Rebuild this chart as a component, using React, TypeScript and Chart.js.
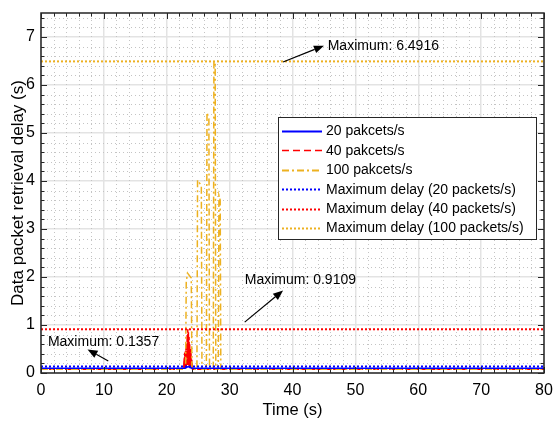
import React, { useEffect, useRef } from "react";
import { Chart, registerables } from "chart.js";

Chart.register(...registerables);

const FONT = "'Liberation Sans', Arial, Helvetica, sans-serif";

// ---- data ----
const time20 = [0, 10, 20, 22.9, 23.4, 24.0, 30, 40, 50, 60, 70, 80];
const delay20 = [0.1, 0.1, 0.1, 0.1, 0.1357, 0.1, 0.1, 0.1, 0.1, 0.1, 0.1, 0.1];

const time40 = [
  0, 22.7, 22.75, 22.8, 22.85, 22.9, 22.95, 23.0, 23.05, 23.1, 23.15, 23.2, 23.25, 23.3, 23.35, 23.4, 23.45,
  23.5, 23.55, 23.6, 23.65, 23.7, 23.75, 23.8, 23.85, 23.9, 23.95, 24.0, 24.05, 24.1, 80,
];
const delay40 = [
  0.08, 0.08, 0.3, 0.1, 0.42, 0.12, 0.45, 0.15, 0.55, 0.12, 0.62, 0.2, 0.8, 0.15, 0.9109, 0.2, 0.85,
  0.15, 0.75, 0.12, 0.6, 0.1, 0.5, 0.1, 0.42, 0.1, 0.3, 0.1, 0.2, 0.08, 0.08,
];

const time100 = [0, 23.0, 23.1, 23.3, 23.9, 24.0, 24.8, 24.9, 25.5, 25.6, 26.3, 26.4, 26.7, 26.8, 27.4, 27.5, 27.7, 27.8, 28.2, 28.3, 28.5, 28.6, 80];
const delay100 = [0.08, 0.08, 1.9, 2.08, 1.98, 0.08, 0.08, 4.02, 3.9, 0.08, 0.08, 5.43, 5.3, 0.08, 0.08, 6.4916, 6.45, 0.08, 0.08, 3.7, 3.6, 0.08, 0.08];

const maxDelay20 = 0.1357;
const maxDelay40 = 0.9109;
const maxDelay100 = 6.4916;

const xTicks = [0, 10, 20, 30, 40, 50, 60, 70, 80];
const yTicks = [0, 1, 2, 3, 4, 5, 6, 7];

const seriesLabels = [
  "20 pakcets/s",
  "40 pakcets/s",
  "100 pakcets/s",
  "Maximum delay (20 packets/s)",
  "Maximum delay (40 packets/s)",
  "Maximum delay (100 packets/s)",
];

const BLUE = "#0000ff";
const RED = "#ff0000";
const ORANGE = "#EDB120";

// annotations in data coordinates: text anchor (left, middle), arrow tail -> head
const annotations = [
  { text: "Maximum: 6.4916", tx: 45.6, ty: 6.81, ax: 38.5, ay: 6.48, hx: 45.0, hy: 6.82 },
  { text: "Maximum: 0.9109", tx: 32.4, ty: 1.93, ax: 32.4, ay: 1.06, hx: 38.5, hy: 1.72 },
  { text: "Maximum: 0.1357", tx: 1.1, ty: 0.64, ax: 10.7, ay: 0.25, hx: 7.4, hy: 0.49 },
];

function pts(t: number[], v: number[]) {
  return t.map((x, i) => ({ x, y: v[i] }));
}

const decorPlugin = {
  id: "decor",
  beforeDatasetsDraw(chart: any) {
    const { ctx, chartArea: a, scales } = chart;
    const xs = scales.x, ys = scales.y;
    ctx.save();
    ctx.strokeStyle = "#c4c4c4";
    ctx.lineWidth = 1;
    ctx.setLineDash([1, 3]);
    for (let v = 2; v < 80; v += 2) {
      if (v % 10 === 0) continue;
      const px = Math.round(xs.getPixelForValue(v)) + 0.5;
      ctx.beginPath();
      ctx.moveTo(px, a.bottom);
      ctx.lineTo(px, a.top);
      ctx.stroke();
    }
    for (let k = 1; k < 38; k++) {
      if (k % 5 === 0) continue;
      const v = k * 0.2;
      const py = Math.round(ys.getPixelForValue(v)) + 0.5;
      ctx.beginPath();
      ctx.moveTo(a.left + 2, py);
      ctx.lineTo(a.right, py);
      ctx.stroke();
    }
    ctx.restore();
  },
  afterDatasetsDraw(chart: any) {
    const { ctx, chartArea: a, scales } = chart;
    const xs = scales.x, ys = scales.y;
    ctx.save();
    ctx.setLineDash([]);
    // axes box
    ctx.strokeStyle = "#262626";
    ctx.lineWidth = 1.5;
    ctx.strokeRect(a.left, a.top, a.right - a.left, a.bottom - a.top);
    // inward ticks on all four sides
    ctx.lineWidth = 1;
    for (let v = 0; v <= 80; v += 2) {
      const px = Math.round(xs.getPixelForValue(v)) + 0.5;
      const len = v % 10 === 0 ? 6 : 3.5;
      ctx.beginPath();
      ctx.moveTo(px, a.bottom);
      ctx.lineTo(px, a.bottom - len);
      ctx.moveTo(px, a.top);
      ctx.lineTo(px, a.top + len);
      ctx.stroke();
    }
    for (let k = 0; k <= 37; k++) {
      const py = Math.round(ys.getPixelForValue(k * 0.2)) + 0.5;
      const len = k % 5 === 0 ? 6 : 3.5;
      ctx.beginPath();
      ctx.moveTo(a.left, py);
      ctx.lineTo(a.left + len, py);
      ctx.moveTo(a.right, py);
      ctx.lineTo(a.right - len, py);
      ctx.stroke();
    }
    // annotations
    ctx.fillStyle = "#000";
    ctx.strokeStyle = "#000";
    ctx.font = `14px ${FONT}`;
    ctx.textBaseline = "middle";
    ctx.textAlign = "left";
    for (const an of annotations) {
      ctx.fillText(an.text, xs.getPixelForValue(an.tx), ys.getPixelForValue(an.ty));
      const x1 = xs.getPixelForValue(an.ax), y1 = ys.getPixelForValue(an.ay);
      const x2 = xs.getPixelForValue(an.hx), y2 = ys.getPixelForValue(an.hy);
      const ang = Math.atan2(y2 - y1, x2 - x1);
      const hl = 10, hw = 4;
      const bx = x2 - hl * Math.cos(ang), by = y2 - hl * Math.sin(ang);
      ctx.lineWidth = 1.2;
      ctx.beginPath();
      ctx.moveTo(x1, y1);
      ctx.lineTo(bx, by);
      ctx.stroke();
      ctx.beginPath();
      ctx.moveTo(x2, y2);
      ctx.lineTo(bx + hw * Math.sin(ang), by - hw * Math.cos(ang));
      ctx.lineTo(bx - hw * Math.sin(ang), by + hw * Math.cos(ang));
      ctx.closePath();
      ctx.fill();
    }
    // legend
    const lx = 278, ly = 117, lw = 258, lh = 122;
    ctx.fillStyle = "#fff";
    ctx.fillRect(lx, ly, lw, lh);
    ctx.strokeStyle = "#262626";
    ctx.lineWidth = 1;
    ctx.strokeRect(lx + 0.5, ly + 0.5, lw, lh);
    const styles = [
      { c: BLUE, d: [] as number[], w: 2 },
      { c: RED, d: [7, 4], w: 1.5 },
      { c: ORANGE, d: [7, 3, 2, 3], w: 2 },
      { c: BLUE, d: [2, 2], w: 2 },
      { c: RED, d: [2, 2], w: 2 },
      { c: ORANGE, d: [2, 2], w: 2 },
    ];
    for (let i = 0; i < seriesLabels.length; i++) {
      const cy = ly + 14 + i * 19.4;
      const s = styles[i];
      ctx.strokeStyle = s.c;
      ctx.lineWidth = s.w;
      ctx.setLineDash(s.d);
      ctx.beginPath();
      ctx.moveTo(lx + 4, Math.round(cy) + 0.5);
      ctx.lineTo(lx + 44, Math.round(cy) + 0.5);
      ctx.stroke();
      ctx.setLineDash([]);
      ctx.fillStyle = "#000";
      ctx.fillText(seriesLabels[i], lx + 48, cy + 0.5);
    }
    ctx.restore();
  },
};

export default function App() {
  const ref = useRef<HTMLCanvasElement>(null);
  useEffect(() => {
    document.body.style.margin = "0";
    const canvas = ref.current!;
    const base = { pointRadius: 0, tension: 0, fill: false, spanGaps: true } as any;
    const chart = new Chart(canvas, {
      type: "line",
      data: {
        datasets: [
          { ...base, label: seriesLabels[5], data: pts([0, 80], [maxDelay100, maxDelay100]), borderColor: ORANGE, borderWidth: 2, borderDash: [2, 2], order: 1 },
          { ...base, label: seriesLabels[3], data: pts([0, 80], [maxDelay20, maxDelay20]), borderColor: BLUE, borderWidth: 2, borderDash: [2, 2], order: 2 },
          { ...base, label: seriesLabels[4], data: pts([0, 80], [maxDelay40, maxDelay40]), borderColor: RED, borderWidth: 2, borderDash: [2, 2], order: 3 },
          { ...base, label: seriesLabels[0], data: pts(time20, delay20), borderColor: BLUE, borderWidth: 1.5, order: 4 },
          { ...base, label: seriesLabels[2], data: pts(time100, delay100), borderColor: ORANGE, borderWidth: 1.5, borderDash: [7, 3, 2, 3], order: 5 },
          { ...base, label: seriesLabels[1], data: pts(time40, delay40), borderColor: RED, borderWidth: 1.5, borderDash: [6, 2], order: 6 },
        ],
      },
      options: {
        animation: false,
        responsive: false,
        events: [],
        layout: { padding: { left: 8, right: 10, top: 13, bottom: 0 } },
        plugins: { legend: { display: false }, tooltip: { enabled: false } },
        scales: {
          x: {
            type: "linear",
            min: 0,
            max: 80,
            afterBuildTicks: (s: any) => {
              s.ticks = xTicks.map((v) => ({ value: v }));
            },
            afterFit: (s: any) => {
              s.height = 48;
              s.paddingLeft = 0;
              s.paddingRight = 0;
            },
            ticks: { font: { family: FONT, size: 16 }, color: "#000", padding: 8, maxRotation: 0 },
            grid: { color: "#e3e3e3", lineWidth: 1.5, drawTicks: false },
            border: { display: false },
            title: { display: true, text: "Time (s)", font: { family: FONT, size: 16.5 }, color: "#000", padding: { top: 0, bottom: 1 } },
          },
          y: {
            type: "linear",
            min: 0,
            max: 7.5,
            afterBuildTicks: (s: any) => {
              s.ticks = yTicks.map((v) => ({ value: v }));
            },
            afterFit: (s: any) => {
              s.width = 33;
              s.paddingTop = 0;
              s.paddingBottom = 0;
            },
            ticks: { font: { family: FONT, size: 16 }, color: "#000", padding: 6 },
            grid: { color: "#e3e3e3", lineWidth: 1.5, drawTicks: false },
            border: { display: false },
            title: { display: true, text: "Data packet retrieval delay (s)", font: { family: FONT, size: 17 }, color: "#000", padding: { top: 0, bottom: 0 } },
          },
        },
      },
      plugins: [decorPlugin],
    });
    return () => chart.destroy();
  }, []);
  return (
    <div style={{ width: 554, height: 421, background: "#fff" }}>
      <canvas ref={ref} width={554} height={421} style={{ display: "block" }} />
    </div>
  );
}
